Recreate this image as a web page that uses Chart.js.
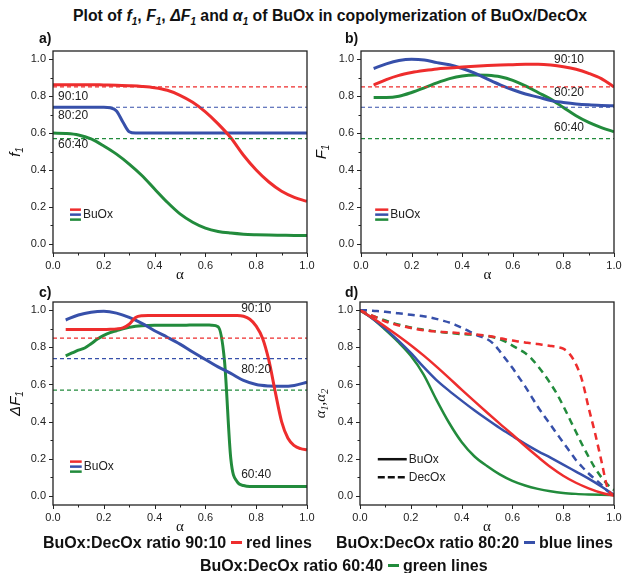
<!DOCTYPE html>
<html>
<head>
<meta charset="utf-8">
<script src="https://cdn.jsdelivr.net/npm/chart.js@4.4.1/dist/chart.umd.min.js"></script>
<style>
  body { margin: 0; background: #fff; width: 622px; height: 573px; position: relative; overflow: hidden; font-family: "Liberation Sans", Arial, sans-serif; color: #111; }
  canvas { position: absolute; }
  .lbl { position: absolute; font-weight: bold; white-space: nowrap; z-index: 2; }
  #title { position: absolute; left: 19px; width: 622px; top: 7px; text-align: center; font-size: 15.8px; font-weight: bold; line-height: 18px; white-space: nowrap; }
  #title sub { font-size: 10px; }
  .key { position: absolute; font-size: 16px; line-height: 16px; font-weight: bold; white-space: nowrap; z-index: 2; }
  .sw { display: inline-block; width: 11px; height: 3px; vertical-align: middle; margin: 0 0 2px 0; }
</style>
</head>
<body>
<div id="title">Plot of <i>f<sub>1</sub></i>, <i>F<sub>1</sub></i>, <i>ΔF<sub>1</sub></i> and <i>α<sub>1</sub></i> of BuOx in copolymerization of BuOx/DecOx</div>
<div class="lbl" style="left:39px;top:30px;font-size:14px">a)</div>
<div class="lbl" style="left:345px;top:30px;font-size:14px">b)</div>
<div class="lbl" style="left:39px;top:284px;font-size:14px">c)</div>
<div class="lbl" style="left:345px;top:284px;font-size:14px">d)</div>
<canvas id="pa" width="322" height="252" style="left:0;top:28px"></canvas>
<canvas id="pb" width="312" height="252" style="left:310px;top:28px"></canvas>
<canvas id="pc" width="322" height="257" style="left:0;top:278px"></canvas>
<canvas id="pd" width="312" height="257" style="left:310px;top:278px"></canvas>
<div class="key" style="left:43px;top:535px">BuOx:DecOx ratio 90:10 <span class="sw" style="background:rgb(238,45,45)"></span> red lines</div>
<div class="key" style="left:336px;top:535px">BuOx:DecOx ratio 80:20 <span class="sw" style="background:rgb(55,80,170)"></span> blue lines</div>
<div class="key" style="left:200px;top:558px">BuOx:DecOx ratio 60:40 <span class="sw" style="background:rgb(34,139,60)"></span> green lines</div>
<script>
const alpha = [0, 0.05, 0.1, 0.15, 0.2, 0.25, 0.3, 0.35, 0.4, 0.45, 0.5, 0.55, 0.6, 0.65, 0.7, 0.75, 0.8, 0.85, 0.9, 0.95, 1]
const alphaFine = [0, 0.025, 0.05, 0.075, 0.1, 0.125, 0.15, 0.175, 0.2, 0.225, 0.25, 0.275, 0.3, 0.325, 0.35, 0.375, 0.4, 0.425, 0.45, 0.475, 0.5,
  0.525, 0.55, 0.575, 0.6, 0.625, 0.65, 0.675, 0.7, 0.725, 0.75, 0.775, 0.8, 0.825, 0.85, 0.875, 0.9, 0.925, 0.95, 0.975, 1]
const xTicks = [0, 0.2, 0.4, 0.6, 0.8, 1]
const yTicks = [0, 0.2, 0.4, 0.6, 0.8, 1]

// feed composition of BuOx for 90:10, 80:20, 60:40 (dashed reference lines)
const feedBuOx = [0.85, 0.74, 0.57]
const ratioNames = ['90:10', '80:20', '60:40']

// a) f1
const aRed = [0.862, 0.862, 0.862, 0.862, 0.861, 0.86, 0.857, 0.853, 0.846, 0.832, 0.805, 0.767, 0.715, 0.65, 0.575, 0.48, 0.4, 0.335, 0.285, 0.252, 0.23]
const aBlue = [0.74, 0.74, 0.74, 0.74, 0.74, 0.74, 0.74, 0.74, 0.74, 0.737, 0.72, 0.66, 0.607, 0.6, 0.6, 0.6, 0.6, 0.6, 0.6, 0.6, 0.6,
  0.6, 0.6, 0.6, 0.6, 0.6, 0.6, 0.6, 0.6, 0.6, 0.6, 0.6, 0.6, 0.6, 0.6, 0.6, 0.6, 0.6, 0.6, 0.6, 0.6]
const aGreen = [0.6, 0.598, 0.59, 0.568, 0.53, 0.486, 0.432, 0.37, 0.297, 0.225, 0.162, 0.117, 0.085, 0.067, 0.058, 0.052, 0.049, 0.047, 0.046, 0.045, 0.045]

// b) F1
const bRed = [null, 0.86, 0.89, 0.913, 0.928, 0.939, 0.948, 0.953, 0.958, 0.962, 0.966, 0.969, 0.971, 0.973, 0.973, 0.969, 0.96, 0.946, 0.924, 0.895, 0.85]
const bBlue = [null, 0.95, 0.975, 0.993, 1.0, 0.996, 0.982, 0.97, 0.95, 0.925, 0.893, 0.862, 0.835, 0.812, 0.795, 0.776, 0.766, 0.758, 0.753, 0.75, 0.748]
const bGreen = [null, 0.793, 0.793, 0.8, 0.82, 0.845, 0.872, 0.895, 0.91, 0.915, 0.913, 0.905, 0.886, 0.856, 0.82, 0.784, 0.739, 0.694, 0.658, 0.63, 0.607]

// c) delta F1
const cRed = [null, null, 0.897, 0.897, 0.897, 0.897, 0.897, 0.897, 0.897, 0.898, 0.9, 0.905, 0.925, 0.962, 0.971, 0.972,
  0.972, 0.972, 0.972, 0.972, 0.972, 0.972, 0.972, 0.972, 0.972, 0.972, 0.972, 0.972, 0.972, 0.972,
  0.968, 0.952, 0.915, 0.85, 0.73, 0.56, 0.4, 0.31, 0.27, 0.254, 0.248]
const cBlue = [null, 0.948, 0.975, 0.99, 0.995, 0.985, 0.962, 0.93, 0.89, 0.855, 0.818, 0.775, 0.735, 0.695, 0.66, 0.622, 0.6, 0.592, 0.59, 0.595, 0.612]
const cGreen = [null, null, 0.755, 0.77, 0.785, 0.797, 0.82, 0.845, 0.865, 0.88, 0.89, 0.9,
  0.908, 0.914, 0.917, 0.918, 0.919, 0.92, 0.92, 0.92, 0.92, 0.92,
  0.921, 0.921, 0.921, 0.92, 0.912, 0.73, 0.2, 0.075, 0.055, 0.05,
  0.05, 0.05, 0.05, 0.05, 0.05, 0.05, 0.05, 0.05, 0.05]

// d) alpha1 (BuOx, solid) and alpha2 (DecOx, dashed)
const dRed = [1.0, 0.958, 0.912, 0.863, 0.812, 0.757, 0.698, 0.636, 0.572, 0.51, 0.449, 0.389, 0.33, 0.268, 0.21, 0.155, 0.108, 0.07, 0.04, 0.016, 0.0]
const dBlue = [1.0, 0.955, 0.9, 0.838, 0.77, 0.695, 0.625, 0.567, 0.513, 0.461, 0.412, 0.365, 0.322, 0.28, 0.241, 0.205, 0.168, 0.13, 0.092, 0.05, 0.005]
const dGreen = [1.0, 0.955, 0.895, 0.83, 0.755, 0.655, 0.52, 0.395, 0.29, 0.213, 0.16, 0.115, 0.08, 0.055, 0.037, 0.024, 0.015, 0.01, 0.007, 0.005, 0.004]
const dRedDash = [1.0, 0.985, 0.97, 0.955, 0.94, 0.93, 0.92, 0.912, 0.905, 0.898, 0.893, 0.889, 0.886, 0.883, 0.881, 0.879, 0.877, 0.874, 0.871, 0.867, 0.863,
  0.857, 0.85, 0.843, 0.837, 0.832, 0.827, 0.822, 0.818, 0.813, 0.808, 0.802, 0.793, 0.765, 0.71, 0.62, 0.475, 0.34, 0.19, 0.04, 0.0]
const dBlueDash = [1.0, 1.0, 0.998, 0.995, 0.992, 0.988, 0.984, 0.98, 0.976, 0.972, 0.968, 0.962, 0.954, 0.945, 0.935, 0.922, 0.907, 0.89, 0.873, 0.858, 0.845,
  0.82, 0.78, 0.735, 0.69, 0.64, 0.59, 0.535, 0.48, 0.43, 0.383, 0.335, 0.287, 0.24, 0.193, 0.155, 0.12, 0.09, 0.06, 0.025, 0.0]
const dGreenDash = [1.0, 0.985, 0.97, 0.957, 0.945, 0.934, 0.924, 0.915, 0.907, 0.901, 0.896, 0.891, 0.886, 0.882, 0.878, 0.875, 0.872, 0.87, 0.868, 0.865, 0.861,
  0.855, 0.845, 0.83, 0.81, 0.79, 0.77, 0.74, 0.7, 0.655, 0.605, 0.55, 0.485, 0.415, 0.345, 0.275, 0.21, 0.15, 0.1, 0.06, 0.03]

const RED = 'rgb(238,45,45)'
const BLUE = 'rgb(55,80,170)'
const GREEN = 'rgb(34,139,60)'
const colors = [RED, BLUE, GREEN]
const SANS = '"Liberation Sans", Arial, sans-serif'
const SERIF = '"Liberation Serif", "Times New Roman", serif'

const pts = (xs, ys) => xs.map((x, i) => ({ x, y: ys[i] })).filter(p => p.y !== null)

function curve (xs, ys, color, width, dash) {
  return { data: pts(xs, ys), borderColor: color, borderWidth: width, borderDash: dash || [], cubicInterpolationMode: 'monotone', pointRadius: 0, fill: false }
}

function feedLines () {
  return feedBuOx.map((v, i) => ({
    data: [{ x: 0, y: v }, { x: 1, y: v }], borderColor: colors[i], borderWidth: 1.2, borderDash: [4, 3], pointRadius: 0, fill: false
  }))
}

// draw text made of pieces (main + subscript), centred at (cx, cy), optionally rotated
function richText (ctx, parts, cx, cy, rot) {
  ctx.save()
  ctx.translate(cx, cy)
  if (rot) ctx.rotate(rot)
  let w = 0
  parts.forEach(p => { ctx.font = p[1]; w += ctx.measureText(p[0]).width })
  let x = -w / 2
  ctx.textBaseline = 'middle'
  ctx.textAlign = 'left'
  parts.forEach(p => {
    ctx.font = p[1]
    ctx.fillText(p[0], x, p[2] || 0)
    x += ctx.measureText(p[0]).width
  })
  ctx.restore()
}

const framePlugin = {
  id: 'frame',
  afterDatasetsDraw (chart, args, o) {
    const { ctx, chartArea: ca, scales: { x, y } } = chart
    ctx.save()
    ctx.strokeStyle = '#222'
    ctx.lineWidth = 1.3
    ctx.strokeRect(ca.left, ca.top, ca.right - ca.left, ca.bottom - ca.top)
    ctx.lineWidth = 1
    const line = (x1, y1, x2, y2) => { ctx.beginPath(); ctx.moveTo(x1, y1); ctx.lineTo(x2, y2); ctx.stroke() }
    xTicks.forEach((v, i) => {
      const p = Math.round(x.getPixelForValue(v)) + 0.5
      line(p, ca.bottom, p, ca.bottom + 4)
      if (i < xTicks.length - 1) {
        const m = Math.round(x.getPixelForValue((v + xTicks[i + 1]) / 2)) + 0.5
        line(m, ca.bottom, m, ca.bottom + 2.5)
      }
    })
    yTicks.forEach((v, i) => {
      const p = Math.round(y.getPixelForValue(v)) + 0.5
      line(ca.left, p, ca.left - 4, p)
      if (i < yTicks.length - 1) {
        const m = Math.round(y.getPixelForValue((v + yTicks[i + 1]) / 2)) + 0.5
        line(ca.left, m, ca.left - 2.5, m)
      }
    })
    ctx.fillStyle = '#111'
    // axis titles
    richText(ctx, o.yTitle, ca.left - o.yTitleGap, (ca.top + ca.bottom) / 2, -Math.PI / 2)
    ctx.font = '15px ' + SERIF
    ctx.textAlign = 'center'
    ctx.textBaseline = 'middle'
    ctx.fillText('α', (ca.left + ca.right) / 2, ca.bottom + 22)
    // ratio notes
    ctx.font = '12px ' + SANS
    ctx.fillStyle = '#222'
    ;(o.notes || []).forEach(n => {
      ctx.textAlign = n.align || 'left'
      ctx.fillText(n.text, x.getPixelForValue(n.x), y.getPixelForValue(n.y))
    })
    // small legend
    const lg = o.legend
    if (lg) {
      ctx.lineWidth = 2.5
      lg.rows.forEach(r => {
        ctx.strokeStyle = r.color
        ctx.setLineDash(r.dash || [])
        const py = y.getPixelForValue(r.y)
        line(x.getPixelForValue(lg.x0), py, x.getPixelForValue(lg.x1), py)
        if (r.text) {
          ctx.fillStyle = '#222'
          ctx.textAlign = 'left'
          ctx.fillText(r.text, x.getPixelForValue(lg.x1) + 2, py)
        }
      })
      ctx.setLineDash([])
    }
    ctx.restore()
  }
}

function makePanel (id, datasets, yAxisWidth, xAxisHeight, padTop, padRight, extra) {
  return new Chart(document.getElementById(id), {
    type: 'line',
    data: { datasets },
    options: {
      responsive: false,
      animation: false,
      devicePixelRatio: 1,
      layout: { padding: { top: padTop, right: padRight, left: 0, bottom: 0 } },
      plugins: { legend: { display: false }, tooltip: { enabled: false }, frame: extra },
      scales: {
        x: {
          type: 'linear', min: 0, max: 1,
          afterBuildTicks: s => { s.ticks = xTicks.map(v => ({ value: v })) },
          afterFit: s => { s.height = xAxisHeight; s.paddingLeft = 0; s.paddingRight = 0 },
          grid: { display: false, drawTicks: false },
          border: { display: false },
          ticks: { padding: 6, autoSkip: false, maxRotation: 0, color: '#222', font: { family: SANS, size: 11 }, callback: v => v.toFixed(1) }
        },
        y: {
          type: 'linear', min: -0.05, max: 1.045,
          afterBuildTicks: s => { s.ticks = yTicks.map(v => ({ value: v })) },
          afterFit: s => { s.width = yAxisWidth; s.paddingTop = 0; s.paddingBottom = 0 },
          grid: { display: false, drawTicks: false },
          border: { display: false },
          ticks: { padding: 7, color: '#222', font: { family: SANS, size: 11 }, callback: v => v.toFixed(1) }
        }
      }
    },
    plugins: [framePlugin]
  })
}

const sub = (t) => [t, 'italic 10px ' + SANS, 4]
const bulegend = (x0, x1, y0) => ({
  x0, x1,
  rows: [
    { color: RED, y: y0 + 0.027 },
    { color: BLUE, y: y0, text: 'BuOx' },
    { color: GREEN, y: y0 - 0.027 }
  ]
})

makePanel('pa', [
  ...feedLines(),
  curve(alpha, aRed, RED, 3),
  curve(alphaFine, aBlue, BLUE, 3),
  curve(alpha, aGreen, GREEN, 3)
], 53, 27, 23, 15, {
  yTitle: [['f', 'italic 15px ' + SANS], sub('1')], yTitleGap: 37,
  notes: [
    { text: ratioNames[0], x: 0.02, y: 0.8 },
    { text: ratioNames[1], x: 0.02, y: 0.694 },
    { text: ratioNames[2], x: 0.02, y: 0.537 }
  ],
  legend: bulegend(0.067, 0.11, 0.158)
})

makePanel('pb', [
  ...feedLines(),
  curve(alpha, bRed, RED, 3),
  curve(alpha, bBlue, BLUE, 3),
  curve(alpha, bGreen, GREEN, 3)
], 51, 27, 23, 8, {
  yTitle: [['F', 'italic 15px ' + SANS], sub('1')], yTitleGap: 39,
  notes: [
    { text: ratioNames[0], x: 0.822, y: 0.996, align: 'center' },
    { text: ratioNames[1], x: 0.822, y: 0.818, align: 'center' },
    { text: ratioNames[2], x: 0.822, y: 0.63, align: 'center' }
  ],
  legend: bulegend(0.056, 0.108, 0.158)
})

makePanel('pc', [
  ...feedLines(),
  curve(alphaFine, cRed, RED, 3),
  curve(alpha, cBlue, BLUE, 3),
  curve(alphaFine, cGreen, GREEN, 3)
], 53, 30, 24, 15, {
  yTitle: [['ΔF', 'italic 15px ' + SANS], sub('1')], yTitleGap: 37,
  notes: [
    { text: ratioNames[0], x: 0.8, y: 1.007, align: 'center' },
    { text: ratioNames[1], x: 0.8, y: 0.68, align: 'center' },
    { text: ratioNames[2], x: 0.8, y: 0.116, align: 'center' }
  ],
  legend: bulegend(0.067, 0.113, 0.157)
})

makePanel('pd', [
  curve(alphaFine, dRedDash, RED, 2.5, [7, 5]),
  curve(alphaFine, dBlueDash, BLUE, 2.5, [7, 5]),
  curve(alphaFine, dGreenDash, GREEN, 2.5, [7, 5]),
  curve(alpha, dRed, RED, 2.5),
  curve(alpha, dBlue, BLUE, 2.5),
  curve(alpha, dGreen, GREEN, 2.5)
], 50, 30, 24, 8, {
  yTitle: [['α', 'italic 15px ' + SERIF], ['1', 'italic 10px ' + SERIF, 4], [',', '15px ' + SERIF], ['α', 'italic 15px ' + SERIF], ['2', 'italic 10px ' + SERIF, 4]],
  yTitleGap: 39,
  legend: {
    x0: 0.07, x1: 0.184,
    rows: [
      { color: '#111', y: 0.197, text: 'BuOx' },
      { color: '#111', y: 0.1, text: 'DecOx', dash: [7, 3] }
    ]
  }
})
</script>
</body>
</html>
